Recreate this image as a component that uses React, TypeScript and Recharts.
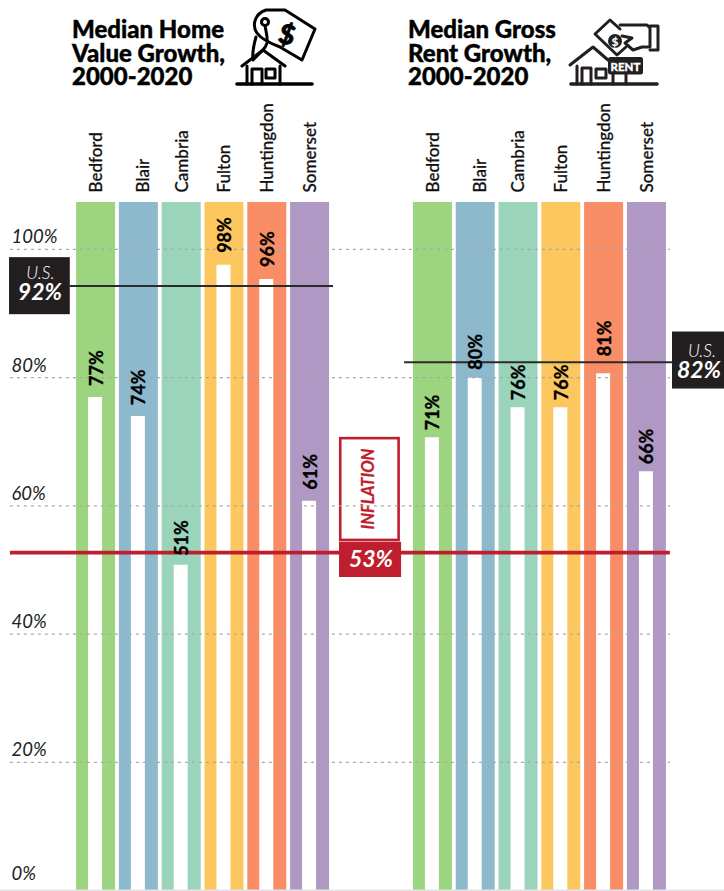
import React from "react";
import { ComposedChart, Bar, Cell, XAxis, YAxis, ReferenceLine, ReferenceArea, LabelList } from "recharts";

const counties = ["Bedford", "Blair", "Cambria", "Fulton", "Huntingdon", "Somerset"];
const homeValues = [77, 74, 50.8, 97.6, 95.4, 60.8];
const homeLabels = ["77%", "74%", "51%", "98%", "96%", "61%"];
const rentValues = [70.7, 80, 75.4, 75.4, 80.7, 65.4];
const rentLabels = ["71%", "80%", "76%", "76%", "81%", "66%"];
const colors = ["#9dd47f", "#8cb9cc", "#9ad4ba", "#fdc75f", "#f98e66", "#af98c3"];
const yTicks = [0, 20, 40, 60, 80, 100];
const yTop = 107.4;
const usHomeLine = 94.3;
const usRentLine = 82.4;
const inflationLine = 52.7;
const secondGroupStart = 7.87;
const xDomain = [-2.231, 14.685];

// Distance between each white bar's top and its rotated label, left group then right group.
const LABEL_GAPS = [11, 11, 9, 12, 12, 11, 7, 8, 7, 7, 17, 7];

const FONT = "Lato, 'Open Sans', sans-serif";
const RED = "#be1e2d";
const DARK = "#231f20";

const rows = [
  ...counties.map((c, i) => ({ slot: i, county: c, top: yTop, value: homeValues[i], label: homeLabels[i], color: colors[i] })),
  ...counties.map((c, i) => ({ slot: i + secondGroupStart, county: c, top: yTop, value: rentValues[i], label: rentLabels[i], color: colors[i] })),
];
const slots = rows.map((r) => r.slot);

const CountyTick = (p: any) => {
  const row = rows.find((r) => r.slot === p.payload.value);
  const x = p.x + (row && row.county === "Blair" ? 4 : 0);
  const y = 192.5;
  return (
    <text x={x} y={y} transform={`rotate(-90 ${x} ${y})`} textAnchor="start" dominantBaseline="central"
      fontFamily={FONT} fontSize={17} fontWeight={500} stroke="#111" strokeWidth={0.25} fill="#111">{row ? row.county : ""}</text>
  );
};

const PercentTick = (p: any) => (
  <text x={p.x + 11.5} y={p.y - (p.payload.value === 0 ? 10.5 : 6)} fontFamily={FONT} fontSize={18.5} fontStyle="italic" fontWeight={400} fill="#222">{p.payload.value}%</text>
);

const ValueLabel = (p: any) => {
  const x = p.x + p.width / 2 + 0.5;
  const y = p.y - LABEL_GAPS[p.index];
  return (
    <text x={x} y={y} transform={`rotate(-90 ${x} ${y})`} textAnchor="start" dominantBaseline="central"
      fontFamily={FONT} fontSize={18} fontWeight={700} stroke="#000" strokeWidth={0.35} fill="#000">{p.value}</text>
  );
};

const UsBox = (label: string, usDx: number, valueDx: number, usDy: number, valueDy: number) => (p: any) => (
  <g>
    <rect x={p.x} y={p.y} width={p.width} height={p.height} fill={DARK} />
    <text x={p.x + p.width / 2 + usDx} y={p.y + usDy} textAnchor="middle" fontFamily={FONT} fontSize={17.5} fontStyle="italic" fontWeight={300} fill="#fff">U.S.</text>
    <text x={p.x + p.width / 2 + valueDx} y={p.y + valueDy} textAnchor="middle" fontFamily={FONT} fontSize={23} fontStyle="italic" fontWeight={700} fill="#fff">{label}</text>
  </g>
);

const InflationBox = (p: any) => {
  const cx = p.x + p.width / 2 - 1;
  const cy = p.y + p.height / 2;
  return (
    <g>
      <rect x={p.x + 1.2} y={p.y + 1.2} width={p.width - 2.4} height={p.height - 2.4} fill="#fff" stroke={RED} strokeWidth={2.6} />
      <text x={cx} y={cy} transform={`rotate(-90 ${cx} ${cy})`} textAnchor="middle" dominantBaseline="central"
        fontFamily={FONT} fontSize={16.5} fontStyle="italic" fontWeight={700} stroke={RED} strokeWidth={0.3} fill={RED}>INFLATION</text>
    </g>
  );
};

const InflationValue = (p: any) => (
  <g>
    <rect x={p.x} y={p.y} width={p.width} height={p.height} fill={RED} />
    <text x={p.x + p.width / 2 + 1} y={p.y + 25} textAnchor="middle" fontFamily={FONT} fontSize={23} fontStyle="italic" fontWeight={700} fill="#fff">53%</text>
  </g>
);

const Title = ({ x, lines }: { x: number; lines: string[] }) => (
  <div style={{ position: "absolute", left: x, top: 17, fontFamily: FONT, fontWeight: 900, fontSize: 24, lineHeight: "23.5px", color: "#000", whiteSpace: "nowrap", WebkitTextStroke: "0.4px #000" }}>
    {lines.map((l) => <div key={l}>{l}</div>)}
  </div>
);

const HomeIcon = () => (
  <svg width={724} height={100} style={{ position: "absolute", left: 0, top: 0 }}>
    <g fill="none" stroke="#000" strokeWidth={3} strokeLinejoin="round" strokeLinecap="round">
      <path d="M237 84H312" strokeWidth={3.6} />
      <path d="M242 66L263 50L285 66" />
      <path d="M247 66V84M280 66V84M252 84V69H262V84" />
      <rect x={266} y={69} width={9} height={9} />
      <path d="M266 10H285L315 29L302 60L280 47C272 44 262 40 257 33C252 26 254 14 266 10Z" />
      <circle cx={265} cy={22} r={3.5} />
      <path d="M265 25.5C266 32 268 38 267 43C266 47 264 49 262 51C258 55 255 58 253 60M256 37C254 44 252 52 253 60" />
    </g>
    <text x={287} y={44} textAnchor="middle" transform="rotate(15 287 35)" fontFamily={FONT} fontSize={27} fontWeight={900} stroke="#000" strokeWidth={0.8} fill="#000">$</text>
  </svg>
);

const RentIcon = () => (
  <svg width={724} height={100} style={{ position: "absolute", left: 0, top: 0 }}>
    <g fill="none" stroke={DARK} strokeWidth={3} strokeLinejoin="round" strokeLinecap="round">
      <path d="M571 84H657" strokeWidth={3.6} />
      <path d="M570 65L593 47L608 60" />
      <path d="M577 66V84M582 84V68H591V84M613 74V84M626 74V84" />
      <rect x={596} y={69} width={10} height={9} />
      <path d="M595 34L610 20L620 29M595 34L617 55L626 47" />
      <path d="M620 25H647L650 28V47H642L633 50L625 43L632 38L622 36" />
      <path d="M650 26H658V50H650" />
    </g>
    <circle cx={615} cy={41} r={7} fill={DARK} />
    <text x={615} y={46} textAnchor="middle" fontFamily={FONT} fontSize={12} fontWeight={900} fill="#fff">$</text>
    <rect x={608} y={57} width={35} height={17.5} rx={2.5} fill={DARK} />
    <text x={625.5} y={70.5} textAnchor="middle" fontFamily={FONT} fontSize={11.5} fontWeight={900} stroke="#fff" strokeWidth={0.3} fill="#fff">RENT</text>
  </svg>
);

export default function App() {
  return (
    <div style={{ position: "absolute", left: 0, top: 0, width: 724, height: 891, overflow: "hidden", background: "#fff" }}>
      <ComposedChart width={724} height={891} data={rows} barGap={0} margin={{ top: 0, right: 0, bottom: 0.5, left: 0 }}>
        <XAxis xAxisId="back" dataKey="slot" type="number" orientation="top" height={202} domain={xDomain} allowDataOverflow
          ticks={slots} interval={0} axisLine={false} tickLine={false} tick={<CountyTick />} />
        <XAxis xAxisId="front" dataKey="slot" type="number" orientation="top" height={0} domain={xDomain} allowDataOverflow hide />
        <YAxis yAxisId="y" type="number" domain={[0, yTop]} allowDataOverflow mirror width={60} ticks={yTicks} interval={0}
          axisLine={false} tickLine={false} tickSize={0} tickMargin={0} tick={<PercentTick />} />

        <Bar xAxisId="back" yAxisId="y" dataKey="top" barSize={39} isAnimationActive={false}>
          {rows.map((r) => <Cell key={r.slot} fill={r.color} />)}
        </Bar>
        <Bar xAxisId="front" yAxisId="y" dataKey="value" barSize={14} fill="#ffffff" isAnimationActive={false}>
          <LabelList dataKey="label" content={<ValueLabel />} />
        </Bar>

        <ReferenceLine xAxisId="back" yAxisId="y" y={0} stroke="#e4e4e4" strokeWidth={2}
          segment={[{ x: -2, y: 0 }, { x: 13.42, y: 0 }]} ifOverflow="visible" />
        {yTicks.filter((t) => t > 0).map((t) => (
          <ReferenceLine key={t} xAxisId="back" yAxisId="y" stroke="#a9a9a9" strokeWidth={1.2} strokeDasharray="3 4"
            segment={[{ x: -2, y: t }, { x: 13.42, y: t }]} />
        ))}
        <ReferenceLine xAxisId="back" yAxisId="y" stroke="#2c2a2b" strokeWidth={2}
          segment={[{ x: -0.6, y: usHomeLine }, { x: 5.55, y: usHomeLine }]} />
        <ReferenceLine xAxisId="back" yAxisId="y" stroke="#2c2a2b" strokeWidth={2}
          segment={[{ x: 7.21, y: usRentLine }, { x: 13.47, y: usRentLine }]} />
        <ReferenceLine xAxisId="back" yAxisId="y" stroke={RED} strokeWidth={3.6}
          segment={[{ x: -2, y: inflationLine }, { x: 5.7, y: inflationLine }]} />
        <ReferenceLine xAxisId="back" yAxisId="y" stroke={RED} strokeWidth={3.6}
          segment={[{ x: 7.13, y: inflationLine }, { x: 13.42, y: inflationLine }]} />

        <ReferenceArea xAxisId="back" yAxisId="y" x1={-2.02} x2={-0.6} y1={89.9} y2={98.8} shape={UsBox("92%", 1, 0.5, 22, 43)} />
        <ReferenceArea xAxisId="back" yAxisId="y" x1={13.47} x2={14.685} y1={78.3} y2={87.2} shape={UsBox("82%", 4, 1, 25.5, 47)} />
        <ReferenceArea xAxisId="back" yAxisId="y" x1={5.69} x2={7.11} y1={54.5} y2={70.75} shape={InflationBox} />
        <ReferenceArea xAxisId="back" yAxisId="y" x1={5.69} x2={7.14} y1={48.9} y2={54.4} shape={InflationValue} />
      </ComposedChart>
      <Title x={72} lines={["Median Home", "Value Growth,", "2000-2020"]} />
      <Title x={408} lines={["Median Gross", "Rent Growth,", "2000-2020"]} />
      <HomeIcon />
      <RentIcon />
    </div>
  );
}
